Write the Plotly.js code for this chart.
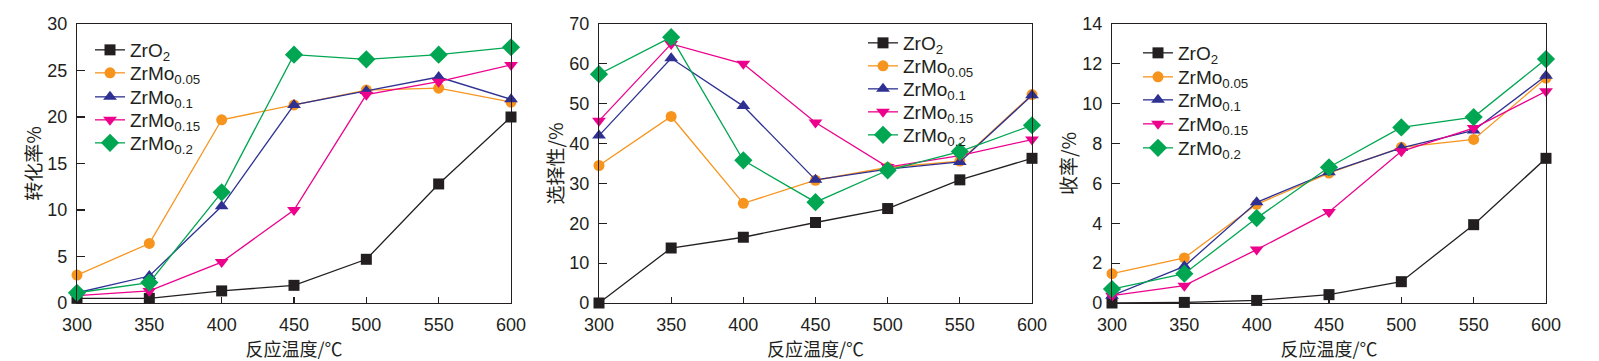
<!DOCTYPE html>
<html>
<head>
<meta charset="utf-8">
<script src="https://cdn.plot.ly/plotly-3.0.1.min.js"></script>
<style>html,body{margin:0;padding:0;background:#fff;}#chart{width:1599px;height:361px;}</style>
</head>
<body>
<div id="chart"></div>
<script>
// ---- data ----
const temps = [300, 350, 400, 450, 500, 550, 600];
const seriesNames = ['ZrO<sub>2</sub>', 'ZrMo<sub>0.05</sub>', 'ZrMo<sub>0.1</sub>', 'ZrMo<sub>0.15</sub>', 'ZrMo<sub>0.2</sub>'];
const seriesColors = ['#231f20', '#f7941d', '#2e3192', '#ec008c', '#00a651'];
const seriesSymbols = ['square', 'circle', 'triangle-up', 'triangle-down', 'diamond'];
const seriesSizes = [11, 11, 12, 12, 14];

// conversion (%)
const convZrO2   = [0.5, 0.5, 1.3, 1.9, 4.7, 12.8, 20.0];
const convMo005  = [3.0, 6.4, 19.7, 21.3, 22.9, 23.1, 21.6];
const convMo01   = [1.1, 2.9, 10.4, 21.3, 22.8, 24.3, 21.9];
const convMo015  = [0.8, 1.3, 4.4, 10.0, 22.4, 23.8, 25.6];
const convMo02   = [1.1, 2.2, 11.9, 26.7, 26.2, 26.7, 27.5];

// selectivity (%)
const selZrO2  = [0, 13.8, 16.5, 20.2, 23.7, 30.9, 36.3];
const selMo005 = [34.5, 46.8, 25.0, 30.8, 34.0, 35.6, 52.3];
const selMo01  = [42.0, 61.4, 49.4, 30.9, 33.6, 35.4, 52.1];
const selMo015 = [45.7, 65.0, 60.0, 45.3, 34.1, 37.0, 41.0];
const selMo02  = [57.4, 66.7, 35.8, 25.3, 33.3, 38.0, 44.6];

// yield (%)
const yldZrO2  = [0.0, 0.03, 0.13, 0.42, 1.07, 3.93, 7.26];
const yldMo005 = [1.47, 2.26, 4.95, 6.52, 7.81, 8.21, 11.29];
const yldMo01  = [0.37, 1.84, 5.05, 6.56, 7.78, 8.66, 11.4];
const yldMo015 = [0.37, 0.87, 2.68, 4.57, 7.61, 8.78, 10.62];
const yldMo02  = [0.70, 1.47, 4.26, 6.81, 8.81, 9.33, 12.24];

const xTitle = '反应温度/℃';
const yTitles = ['转化率%', '选择性/%', '收率/%'];
const yRanges = [[0, 30], [0, 70], [0, 14]];
const yDticks = [5, 10, 2];

// ---- build ----
const panels = [
  [convZrO2, convMo005, convMo01, convMo015, convMo02],
  [selZrO2, selMo005, selMo01, selMo015, selMo02],
  [yldZrO2, yldMo005, yldMo01, yldMo015, yldMo02]
];
const FONT = 'Liberation Sans, Arial, Noto Sans CJK SC, sans-serif';
const CJK = 'Noto Sans CJK SC, Liberation Sans, sans-serif';
const W = 1599, H = 361;
const xDomains = [[77 / W, 511 / W], [599 / W, 1032 / W], [1112 / W, 1546 / W]];
const yDomain = [(H - 303) / H, (H - 24) / H];
// legend placement (px): text start x, row centres
const legendX = [90, 863, 1138];
const legendRows = [[50, 73, 97, 120, 143], [43, 66, 89, 112, 135], [53, 77, 100, 124, 148]];

const layout = {
  width: W, height: H,
  margin: {l: 0, r: 0, t: 0, b: 0},
  paper_bgcolor: '#fff', plot_bgcolor: '#fff',
  font: {family: FONT, size: 18, color: '#231f20'},
  showlegend: true
};

const traces = [];
let legendIdx = 0;
panels.forEach((series, p) => {
  series.forEach((ys, i) => {
    legendIdx++;
    const lname = legendIdx === 1 ? 'legend' : 'legend' + legendIdx;
    traces.push({
      type: 'scatter', mode: 'lines+markers',
      x: temps, y: ys, name: seriesNames[i],
      xaxis: p === 0 ? 'x' : 'x' + (p + 1),
      yaxis: p === 0 ? 'y' : 'y' + (p + 1),
      legend: lname,
      line: {color: seriesColors[i], width: 1.3},
      marker: {color: seriesColors[i], symbol: seriesSymbols[i], size: seriesSizes[i], line: {width: 0}},
      cliponaxis: false
    });
    layout[lname] = {
      x: legendX[p] / W, xanchor: 'left',
      y: (H - legendRows[p][i]) / H, yanchor: 'middle',
      bgcolor: 'rgba(0,0,0,0)', borderwidth: 0,
      font: {family: FONT, size: 19, color: '#231f20'},
      itemwidth: 30
    };
  });
});

for (let p = 0; p < 3; p++) {
  const sfx = p === 0 ? '' : String(p + 1);
  layout['xaxis' + sfx] = {
    domain: xDomains[p], anchor: 'y' + sfx, range: [300, 600], dtick: 50, tick0: 300,
    ticks: 'inside', ticklen: 6, tickwidth: 1.2, tickcolor: '#231f20',
    showline: true, linecolor: '#231f20', linewidth: 1.2, mirror: true,
    showgrid: false, zeroline: false, ticklabelstandoff: 5,
    tickfont: {family: FONT, size: 18, color: '#231f20'},
    title: {text: xTitle, font: {family: CJK, size: 18, color: '#231f20'}, standoff: 4}
  };
  layout['yaxis' + sfx] = {
    domain: yDomain, anchor: 'x' + sfx, range: yRanges[p], dtick: yDticks[p], tick0: 0,
    ticks: 'inside', ticklen: 8, tickwidth: 1.2, tickcolor: '#231f20',
    showline: true, linecolor: '#231f20', linewidth: 1.2, mirror: true,
    showgrid: false, zeroline: false, ticklabelstandoff: 5,
    tickfont: {family: FONT, size: 18, color: '#231f20'},
    title: {text: yTitles[p], font: {family: CJK, size: 19, color: '#231f20'}, standoff: 0}
  };
}

Plotly.newPlot('chart', traces, layout, {displayModeBar: false, staticPlot: true});
</script>
</body>
</html>
